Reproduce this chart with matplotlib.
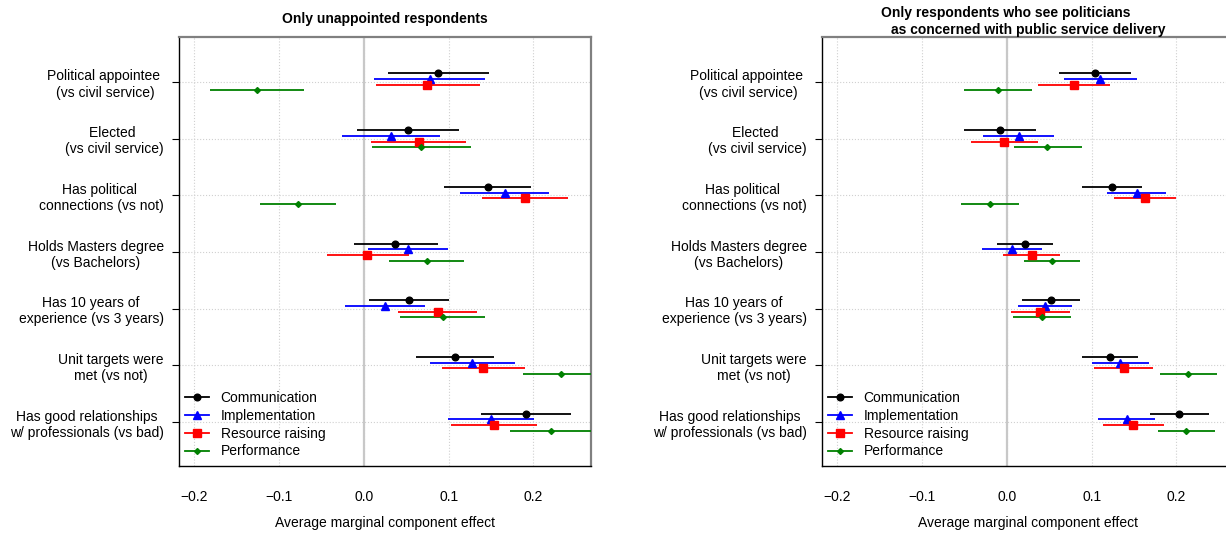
import numpy as np
import matplotlib
matplotlib.use("Agg")
import matplotlib.pyplot as plt
from matplotlib.lines import Line2D

plt.rcParams['font.family'] = ['Liberation Sans', 'DejaVu Sans']
plt.rcParams['font.size'] = 10

row_labels = [
    "Political appointee \n(vs civil service)",
    "Elected \n(vs civil service)",
    "Has political \nconnections (vs not)",
    "Holds Masters degree\n(vs Bachelors)",
    "Has 10 years of\nexperience (vs 3 years)",
    "Unit targets were\nmet (vs not)",
    "Has good relationships\nw/ professionals (vs bad)",
]
series_names = ["Communication", "Implementation", "Resource raising", "Performance"]

# left panel: only unappointed respondents
comm_est_L = [0.087, 0.052, 0.146, 0.037, 0.053, 0.107, 0.191]
comm_lo_L = [0.028, -0.008, 0.095, -0.011, 0.006, 0.061, 0.138]
comm_hi_L = [0.148, 0.112, 0.197, 0.087, 0.100, 0.153, 0.244]
impl_est_L = [0.078, 0.032, 0.166, 0.052, 0.025, 0.128, 0.150]
impl_lo_L = [0.012, -0.026, 0.114, 0.005, -0.022, 0.078, 0.099]
impl_hi_L = [0.143, 0.090, 0.218, 0.099, 0.072, 0.178, 0.201]
res_est_L = [0.075, 0.065, 0.190, 0.004, 0.087, 0.141, 0.153]
res_lo_L = [0.014, 0.009, 0.139, -0.044, 0.040, 0.092, 0.103]
res_hi_L = [0.137, 0.120, 0.241, 0.053, 0.133, 0.190, 0.204]
perf_est_L = [-0.126, 0.068, -0.078, 0.074, 0.093, 0.233, 0.221]
perf_lo_L = [-0.181, 0.010, -0.122, 0.030, 0.043, 0.188, 0.173]
perf_hi_L = [-0.070, 0.126, -0.033, 0.118, 0.143, 0.278, 0.270]

# right panel: respondents who see politicians as concerned with delivery
comm_est_R = [0.104, -0.008, 0.124, 0.021, 0.052, 0.122, 0.203]
comm_lo_R = [0.062, -0.050, 0.089, -0.011, 0.018, 0.089, 0.169]
comm_hi_R = [0.146, 0.034, 0.160, 0.054, 0.086, 0.155, 0.239]
impl_est_R = [0.110, 0.014, 0.153, 0.006, 0.045, 0.134, 0.142]
impl_lo_R = [0.067, -0.028, 0.118, -0.029, 0.013, 0.101, 0.108]
impl_hi_R = [0.154, 0.056, 0.188, 0.041, 0.077, 0.168, 0.175]
res_est_R = [0.079, -0.003, 0.163, 0.030, 0.039, 0.138, 0.149]
res_lo_R = [0.037, -0.042, 0.127, -0.004, 0.005, 0.103, 0.114]
res_hi_R = [0.122, 0.037, 0.199, 0.063, 0.074, 0.173, 0.185]
perf_est_R = [-0.010, 0.048, -0.020, 0.053, 0.041, 0.214, 0.211]
perf_lo_R = [-0.050, 0.008, -0.054, 0.020, 0.007, 0.181, 0.178]
perf_hi_R = [0.030, 0.089, 0.014, 0.086, 0.076, 0.248, 0.245]

colors = ['black', 'blue', 'red', 'green']
markers = ['o', '^', 's', 'D']
msizes = [4.8, 5.5, 5.2, 3.0]
offsets = [0.15, 0.05, -0.05, -0.15]


def draw_panel(ax, ests, los, his):
    ypos = np.arange(len(row_labels))[::-1] + 1
    ax.axvline(0, color='#c8c8c8', lw=1.6, zorder=1)
    for k in range(4):
        y = ypos + offsets[k]
        ax.hlines(y, los[k], his[k], color=colors[k], lw=1.3, zorder=3)
        ax.plot(ests[k], y, ls='none', marker=markers[k], color=colors[k],
                ms=msizes[k], zorder=4)
    ax.set_xlim(-0.218, 0.268)
    ax.set_ylim(0.224, 7.794)
    ax.set_xticks([-0.2, -0.1, 0.0, 0.1, 0.2])
    ax.set_xticklabels(['\u22120.2', '\u22120.1', '0.0', '0.1', '0.2'])
    ax.set_yticks(ypos)
    ax.set_yticklabels(row_labels)
    for lab in ax.get_yticklabels():
        lab.set_multialignment('center')
    ax.grid(True, ls=':', color='#d0d0d0', lw=0.8)
    ax.set_axisbelow(True)
    ax.tick_params(axis='x', length=0, pad=17, labelsize=10)
    ax.tick_params(axis='y', length=5, width=0.8, pad=6, labelsize=10)
    ax.set_xlabel('Average marginal component effect', labelpad=9)
    for s in ['left', 'bottom']:
        ax.spines[s].set_color('black')
        ax.spines[s].set_linewidth(1.0)
    for s in ['top', 'right']:
        ax.spines[s].set_color('#808080')
        ax.spines[s].set_linewidth(1.6)
    handles = [Line2D([0], [0], color=colors[k], lw=1.3, marker=markers[k],
                      ms=msizes[k]) for k in range(4)]
    ax.legend(handles, series_names, loc='lower left', frameon=False,
              bbox_to_anchor=(-0.01, -0.005), handlelength=1.75,
              handletextpad=0.85, labelspacing=0.28, borderaxespad=0.3)


fig = plt.figure(figsize=(12.26, 5.36), dpi=100)
axL = fig.add_axes([179 / 1226, 70 / 536, 412 / 1226, 429 / 536])
axR = fig.add_axes([822 / 1226, 70 / 536, 412 / 1226, 429 / 536])

draw_panel(axL, [comm_est_L, impl_est_L, res_est_L, perf_est_L],
           [comm_lo_L, impl_lo_L, res_lo_L, perf_lo_L],
           [comm_hi_L, impl_hi_L, res_hi_L, perf_hi_L])
draw_panel(axR, [comm_est_R, impl_est_R, res_est_R, perf_est_R],
           [comm_lo_R, impl_lo_R, res_lo_R, perf_lo_R],
           [comm_hi_R, impl_hi_R, res_hi_R, perf_hi_R])

axL.set_title('Only unappointed respondents', fontweight='bold', fontsize=10, pad=10)
fig.text(1006 / 1226, 1 - 13 / 536, 'Only respondents who see politicians',
         ha='center', va='center', fontweight='bold', fontsize=10)
fig.text(1028 / 1226, 1 - 30 / 536, 'as concerned with public service delivery',
         ha='center', va='center', fontweight='bold', fontsize=10)

fig.savefig('out.png', dpi=100)
